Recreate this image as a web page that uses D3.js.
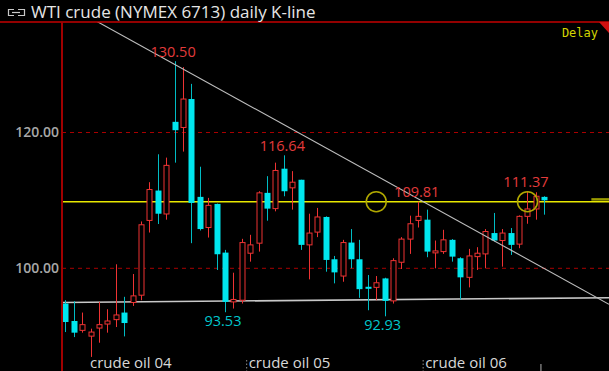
<!DOCTYPE html>
<html>
<head>
<meta charset="utf-8">
<script src="https://d3js.org/d3.v7.min.js"></script>
<style>
body { margin: 0; background: #000; overflow: hidden; }
</style>
</head>
<body>
<div id="chart"></div>
<script>

// daily candles
var opens  = [94.81, 92.24, 90.86, 90.01, 91.20, 91.79, 92.44, 93.48, 94.96, 96.04,
              107.05, 111.45, 108.00, 121.57, 120.74, 124.93, 110.52, 106.01, 109.48, 102.31,
              95.05, 95.30, 102.22, 103.70, 111.11, 108.79, 114.67, 111.85, 113.04, 103.45,
              105.33, 107.56, 101.33, 98.86, 103.79, 101.33, 97.28, 97.19, 98.51, 95.20,
              100.89, 104.30, 107.05, 107.16, 102.27, 102.46, 104.19, 101.48, 98.67, 101.72,
              102.12, 105.19, 104.09, 105.19, 103.56, 107.65, 108.74, 110.52];
var highs  = [95.30, 95.16, 93.48, 91.11, 95.05, 93.97, 100.59, 95.80, 99.16, 106.90,
              112.68, 116.79, 116.30, 130.50, 129.63, 127.16, 114.96, 110.37, 109.53, 102.71,
              99.35, 104.34, 104.93, 111.35, 113.57, 115.56, 116.64, 114.31, 113.04, 108.04,
              108.89, 107.65, 101.82, 104.19, 105.78, 104.19, 99.01, 98.86, 98.61, 101.48,
              104.59, 107.75, 109.81, 108.64, 104.09, 105.67, 104.30, 101.63, 102.86, 103.11,
              105.78, 108.15, 105.78, 105.93, 107.79, 111.37, 111.20, 110.61];
var lows   = [90.61, 89.87, 90.52, 86.95, 89.04, 90.52, 91.35, 89.97, 94.46, 95.30,
              105.27, 106.52, 107.16, 115.56, 117.19, 103.70, 105.57, 104.53, 99.75, 93.53,
              94.07, 94.81, 100.98, 102.46, 107.01, 108.39, 110.61, 108.64, 102.71, 98.37,
              104.59, 99.50, 97.78, 98.02, 100.00, 95.65, 93.82, 95.30, 92.93, 94.81,
              99.90, 102.12, 106.01, 101.63, 100.00, 102.12, 100.98, 95.41, 97.19, 99.75,
              100.00, 103.94, 100.24, 101.97, 102.96, 106.56, 107.16, 107.90];
var closes = [92.09, 90.52, 91.70, 90.61, 91.70, 92.24, 93.13, 91.94, 95.94, 106.41,
              111.60, 108.04, 115.16, 120.34, 124.93, 109.63, 105.78, 109.27, 102.07, 95.05,
              95.41, 103.79, 103.45, 111.11, 108.79, 114.41, 111.35, 112.68, 103.45, 105.19,
              107.56, 101.23, 99.40, 103.79, 101.33, 96.93, 96.98, 97.87, 95.20, 101.13,
              104.30, 106.56, 107.65, 102.46, 102.56, 104.19, 101.72, 98.67, 101.82, 102.22,
              105.42, 104.09, 105.19, 103.45, 107.65, 108.74, 110.61, 110.01];

var yTicks = [100, 120];
var monthLabels = ["crude oil 04", "crude oil 05", "crude oil 06"];
var monthStarts = [3, 22, 43];
var highMarks = [13, 26, 42, 55];
var lowMarks = [19, 38];
var levelPrice = 109.81;
var circleAt = [37, 55];
var resistLine = [[-0.4, 139.2], [64.7, 94.7]];
var supportLine = [[-0.4, 94.96], [64.7, 95.67]];

var width = 609, height = 371;
var plotLeft = 62, plotTop = 22;
var upColor = "#ee3333", downColor = "#00e6ee", downWick = "#00bcc4";

var svg = d3.select("#chart")
  .append("svg")
    .attr("width", width)
    .attr("height", height)
    .style("background", "#000")
    .style("display", "block");

var x = d3.scaleLinear()
    .domain([0, opens.length - 1])
    .range([65.3, 544.3]);
var y = d3.scaleLinear()
    .domain([100, 120])
    .range([268.3, 132.5]);

svg.append("clipPath").attr("id", "plotclip")
  .append("rect")
    .attr("x", plotLeft).attr("y", plotTop)
    .attr("width", width - plotLeft).attr("height", height - plotTop);

var plot = svg.append("g").attr("clip-path", "url(#plotclip)");

// dashed grid
plot.selectAll(".grid")
  .data(yTicks)
  .enter()
  .append("line")
    .attr("x1", plotLeft).attr("x2", width)
    .attr("y1", function(d) { return y(d); })
    .attr("y2", function(d) { return y(d); })
    .attr("stroke", "#a80000")
    .attr("stroke-dasharray", "4,4");

// support line
var line = d3.line()
    .x(function(d) { return x(d[0]); })
    .y(function(d) { return y(d[1]); });
plot.append("path")
    .attr("d", line(supportLine))
    .attr("stroke", "#c8c8c8")
    .attr("stroke-width", 1.6)
    .attr("fill", "none");

// level line
plot.append("line")
    .attr("x1", plotLeft).attr("x2", width)
    .attr("y1", y(levelPrice)).attr("y2", y(levelPrice))
    .attr("stroke", "#e8e800")
    .attr("stroke-width", 1.4);
plot.append("line")
    .attr("x1", x(62.6)).attr("x2", width)
    .attr("y1", y(110.15)).attr("y2", y(110.15))
    .attr("stroke", "#9a9a00")
    .attr("stroke-width", 2.5);

// candles
var idx = d3.range(opens.length);
var candle = plot.selectAll(".candle")
  .data(idx)
  .enter()
  .append("g");

candle.append("line")
    .attr("x1", function(i) { return Math.round(x(i)) + 0.5; })
    .attr("x2", function(i) { return Math.round(x(i)) + 0.5; })
    .attr("y1", function(i) { return y(highs[i]); })
    .attr("y2", function(i) { return y(lows[i]); })
    .attr("stroke", function(i) { return closes[i] >= opens[i] ? upColor : downWick; })
    .attr("stroke-width", 1);

candle.append("rect")
    .attr("x", function(i) { return closes[i] >= opens[i] ? Math.round(x(i)) - 2 : Math.round(x(i)) - 2.5; })
    .attr("y", function(i) { return y(Math.max(opens[i], closes[i])); })
    .attr("width", function(i) { return closes[i] >= opens[i] ? 5 : 6; })
    .attr("height", function(i) { return Math.max(1.5, y(Math.min(opens[i], closes[i])) - y(Math.max(opens[i], closes[i]))); })
    .attr("fill", function(i) { return closes[i] >= opens[i] ? "#000" : downColor; })
    .attr("stroke", function(i) { return closes[i] >= opens[i] ? upColor : "none"; })
    .attr("stroke-width", 1);

// resistance line
plot.append("path")
    .attr("d", line(resistLine))
    .attr("stroke", "#bdbdbd")
    .attr("stroke-width", 1.1)
    .attr("fill", "none");

// circles on the level
plot.selectAll(".ring")
  .data(circleAt)
  .enter()
  .append("circle")
    .attr("cx", function(i) { return x(i); })
    .attr("cy", y(levelPrice))
    .attr("r", 10)
    .attr("fill", "none")
    .attr("stroke", "#b0a800")
    .attr("stroke-width", 1.5);

// high / low values
var fmt = d3.format(".2f");
plot.selectAll(".hi")
  .data(highMarks)
  .enter()
  .append("text")
    .attr("x", function(i) { return x(i) - 1.5; })
    .attr("y", function(i) { return y(highs[i]) - 4.5; })
    .attr("text-anchor", "middle")
    .attr("fill", "#e33b3b")
    .style("font", "14.5px 'Open Sans'")
    .text(function(i) { return fmt(highs[i]); });
plot.selectAll(".lo")
  .data(lowMarks)
  .enter()
  .append("text")
    .attr("x", function(i) { return x(i) - 2; })
    .attr("y", function(i) { return y(lows[i]) + 14; })
    .attr("text-anchor", "middle")
    .attr("fill", "#00c6cc")
    .style("font", "14.5px 'Open Sans'")
    .text(function(i) { return fmt(lows[i]); });

// y axis
var yAxis = svg.append("g")
    .attr("transform", "translate(59,0)")
    .call(d3.axisLeft(y).tickValues(yTicks).tickFormat(fmt).tickSize(0).tickPadding(0));
yAxis.select(".domain").remove();
yAxis.selectAll("text")
    .attr("fill", "#a8a8a8")
    .style("font", "600 14px 'Open Sans'");

// month labels along the bottom
svg.selectAll(".month")
  .data(monthStarts)
  .enter()
  .append("text")
    .attr("x", function(i, k) { return x(i) - (k == 0 ? 0.5 : 1.5); })
    .attr("y", 368)
    .attr("fill", "#d8d8d8")
    .style("font", "15px 'Open Sans'")
    .text(function(i, k) { return monthLabels[k]; });
svg.selectAll(".sep")
  .data(monthStarts.slice(1))
  .enter()
  .append("line")
    .attr("x1", function(i) { return x(i) - 3.5; })
    .attr("x2", function(i) { return x(i) - 3.5; })
    .attr("y1", 360).attr("y2", 371)
    .attr("stroke", "#909090")
    .attr("stroke-dasharray", "1.5,2");
svg.append("line")
    .attr("x1", x(56.6)).attr("x2", x(56.6))
    .attr("y1", 364).attr("y2", 371)
    .attr("stroke", "#b0b0b0");

// frame
svg.append("line")
    .attr("x1", 0).attr("x2", width)
    .attr("y1", plotTop).attr("y2", plotTop)
    .attr("stroke", "#c40000")
    .attr("stroke-width", 1.5);
svg.append("line")
    .attr("x1", plotLeft).attr("x2", plotLeft)
    .attr("y1", plotTop).attr("y2", height)
    .attr("stroke", "#a00000")
    .attr("stroke-width", 2);
svg.append("path")
    .attr("d", "M599," + plotTop + "L" + width + "," + plotTop + "L" + width + ",33Z")
    .attr("fill", "#d01010");

// title + icon
var icon = svg.append("g").attr("stroke", "#c8c8c8").attr("fill", "none").attr("stroke-width", 1.2);
icon.append("path").attr("d", "M14,9.5 H8.5 V15.5 H14");
icon.append("path").attr("d", "M18,9.5 H24.5 V15.5 H18");
icon.append("line").attr("x1", 12).attr("x2", 20).attr("y1", 12.5).attr("y2", 12.5);
svg.append("text")
    .attr("x", 31)
    .attr("y", 18)
    .attr("fill", "#e6e6e6")
    .style("font", "17px 'Open Sans'")
    .text("WTI crude (NYMEX 6713) daily K-line");

svg.append("text")
    .attr("x", 598)
    .attr("y", 37)
    .attr("text-anchor", "end")
    .attr("fill", "#d4d400")
    .style("font", "12px 'DejaVu Sans Mono'")
    .text("Delay");

</script>
</body>
</html>
